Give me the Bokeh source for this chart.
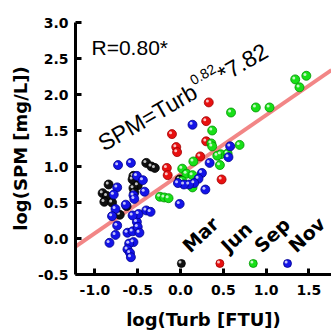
import math
import numpy as np
from bokeh.plotting import figure
from bokeh.models import Range1d, FixedTicker, NumeralTickFormatter
from bokeh.embed import file_html
from bokeh.resources import INLINE
from bokeh.core.properties import value

# ---- data (log10 Turb, log10 SPM) ----
mar_x = [-0.40, -0.34, -0.30, -0.55, -0.56, -0.50, -0.55, -0.54, -0.84, -0.91, -0.86, -0.89, -0.80, -0.63, -0.71, -0.01]
mar_y = [1.05, 1.00, 0.98, 0.87, 0.82, 0.74, 0.70, 0.64, 0.75, 0.63, 0.59, 0.51, 0.50, 0.45, 0.33, 0.82]

jun_x = [0.33, 0.30, -0.10, -0.05, -0.04, 0.30, 0.23, -0.16, -0.15, 0.48]
jun_y = [1.89, 1.63, 1.45, 1.27, 1.20, 1.35, 1.14, 0.98, 0.88, 0.82]

sep_x = [1.47, 1.34, 1.39, 0.88, 1.04, 0.59, 0.37, 0.36, 0.37, 0.69, 0.47, 0.55, 0.43, 0.15, 0.46,
         0.02, 0.07, 0.14, 0.02, 0.14, -0.24, -0.19, -0.14]
sep_y = [2.26, 2.21, 2.10, 1.82, 1.82, 1.75, 1.50, 1.32, 1.28, 1.30, 1.17, 1.18, 1.15, 1.07, 1.02,
         0.97, 0.90, 0.88, 0.80, 0.71, 0.58, 0.57, 0.56]

nov_x = [-0.73, -0.58, -0.51, -0.44, -0.74, -0.42, -0.78, -0.55, -0.76, -0.80, -0.74, -0.76, -0.83, -0.62,
         -0.56, -0.51, -0.49, -0.40, -0.35, -0.50, -0.48, -0.55, -0.60, -0.62, -0.59, -0.58, -0.56, -0.64,
         -0.54, 0.14, 0.58, 0.56, 0.34, 0.25, 0.21, 0.16, 0.10, 0.04, -0.03, 0.29, -0.01]
nov_y = [1.02, 1.05, 0.87, 0.81, 0.71, 0.65, 0.61, 0.60, 0.41, 0.31, 0.18, 0.05, -0.06, 0.08,
         0.10, 0.23, 0.34, 0.39, 0.37, 0.16, 0.08, -0.05, -0.07, -0.15, -0.20, -0.26, 0.32, 0.47,
         0.55, 1.58, 1.28, 1.13, 1.05, 0.91, 0.83, 0.77, 0.75, 0.75, 0.77, 0.68, 0.48]

months = ["Mar", "Jun", "Sep", "Nov"]
month_colors = ["#111111", "#e81010", "#18e018", "#1414e8"]
month_dark = ["#000000", "#a00000", "#009000", "#00008c"]

fit_slope = 0.82
fit_coef = 7.82
r_text = "R=0.80*"

x_ticks = [-1.0, -0.5, 0.0, 0.5, 1.0, 1.5]
y_ticks = [-0.5, 0.0, 0.5, 1.0, 1.5, 2.0, 2.5, 3.0]
x_title = "log(Turb [FTU])"
y_title = "log(SPM [mg/L])"

# ---- layout ----
W, H = 331, 335
BL, BR, BT, BB = 75, 0, 22, 61
XR = (-1.227, 1.764)
YR = (-0.5, 3.0)
FW, FH = W - BL - BR, H - BT - BB
pxx = FW / (XR[1] - XR[0])   # px per x unit
pxy = FH / (YR[1] - YR[0])   # px per y unit

AFONT = "DejaVu Sans"
TFONT = "Liberation Sans"

p = figure(width=W, height=H, output_backend="svg", toolbar_location=None,
           x_range=Range1d(*XR), y_range=Range1d(*YR),
           min_border_left=BL, min_border_right=BR, min_border_top=BT, min_border_bottom=BB)
p.outline_line_color = None
p.grid.visible = False
p.background_fill_color = "white"

for ax in (p.xaxis[0], p.yaxis[0]):
    ax.axis_line_width = 3
    ax.axis_line_color = "black"
    ax.major_tick_line_width = 3
    ax.major_tick_in = 6
    ax.major_tick_out = 0
    ax.minor_tick_line_color = None
    ax.major_label_text_font = AFONT
    ax.major_label_text_font_style = "bold"
    ax.major_label_text_font_size = "14px"
    ax.major_label_text_color = "black"
    ax.axis_label_text_font = AFONT
    ax.axis_label_text_font_style = "bold"
    ax.axis_label_text_font_size = "18px"
    ax.axis_label_text_color = "black"
    ax.formatter = NumeralTickFormatter(format="0.0")

p.xaxis.ticker = FixedTicker(ticks=x_ticks)
p.yaxis.ticker = FixedTicker(ticks=y_ticks)
p.xaxis.axis_label = x_title
p.yaxis.axis_label = y_title
p.xaxis.major_label_standoff = 10
p.yaxis.major_label_standoff = 7
p.xaxis.axis_label_standoff = 11
p.yaxis.axis_label_standoff = 4

# ---- fit line ----
lx = np.array([XR[0], XR[1]])
ly = fit_slope * lx + math.log10(fit_coef)
p.line(lx, ly, line_color="#f28686", line_width=4)

# ---- points as shaded balls ----
def balls(xs, ys, col, dark, size=9):
    xs = np.array(xs); ys = np.array(ys)
    p.scatter(xs, ys, size=size, fill_color=col, line_color=dark, line_width=0.8)
    p.scatter(xs - 1.4 / pxx, ys + 1.4 / pxy, size=3, fill_color="white",
              fill_alpha=0.75, line_color=None)

series = [(mar_x, mar_y), (jun_x, jun_y), (sep_x, sep_y), (nov_x, nov_y)]
for (xs, ys), c, d in zip(series, month_colors, month_dark):
    balls(xs, ys, c, d)

# ---- legend (dots + rotated labels) ----
leg_xs = [0.01, 0.46, 0.85, 1.25]
leg_dot_y, leg_txt_y = -0.347, -0.14
for i, (c, d) in enumerate(zip(month_colors, month_dark)):
    balls([leg_xs[i]], [leg_dot_y], c, d, size=8)
p.text(x=[v + 4 / pxx for v in leg_xs], y=[leg_txt_y] * 4, text=months, angle=math.radians(43),
       text_font=value(AFONT), text_font_style="bold", text_font_size="19px",
       text_align="left", text_baseline="alphabetic", text_color="black")

# ---- annotations ----
p.text(x=[-1.04], y=[2.65], text=[r_text], text_font=value(TFONT), text_font_size="21px",
       text_align="left", text_baseline="alphabetic", text_color="black")

th = math.radians(30)
fs = 23
sfs = 14
ex, ey = -0.94, 1.30
parts = ["SPM=Turb", "%.2f" % fit_slope, "*%.2f" % fit_coef]
w_main = 4.807 * fs
w_sup = 1.946 * sfs
raise_px = 0.42 * fs
sx = ex + (w_main * math.cos(th) - raise_px * math.sin(th)) / pxx
sy = ey + (w_main * math.sin(th) + raise_px * math.cos(th)) / pxy
tx = ex + ((w_main + w_sup) * math.cos(th)) / pxx
ty = ey + ((w_main + w_sup) * math.sin(th)) / pxy
p.text(x=[ex], y=[ey], text=[parts[0]], angle=th, text_font=value(TFONT), text_font_size="%dpx" % fs,
       text_align="left", text_baseline="alphabetic", text_color="black")
p.text(x=[sx], y=[sy], text=[parts[1]], angle=th, text_font=value(TFONT),
       text_font_size="%dpx" % sfs,
       text_align="left", text_baseline="alphabetic", text_color="black")
p.text(x=[tx], y=[ty], text=[parts[2]], angle=th, text_font=value(TFONT), text_font_size="%dpx" % fs,
       text_align="left", text_baseline="alphabetic", text_color="black")

open("out.html", "w").write(file_html(p, INLINE))
